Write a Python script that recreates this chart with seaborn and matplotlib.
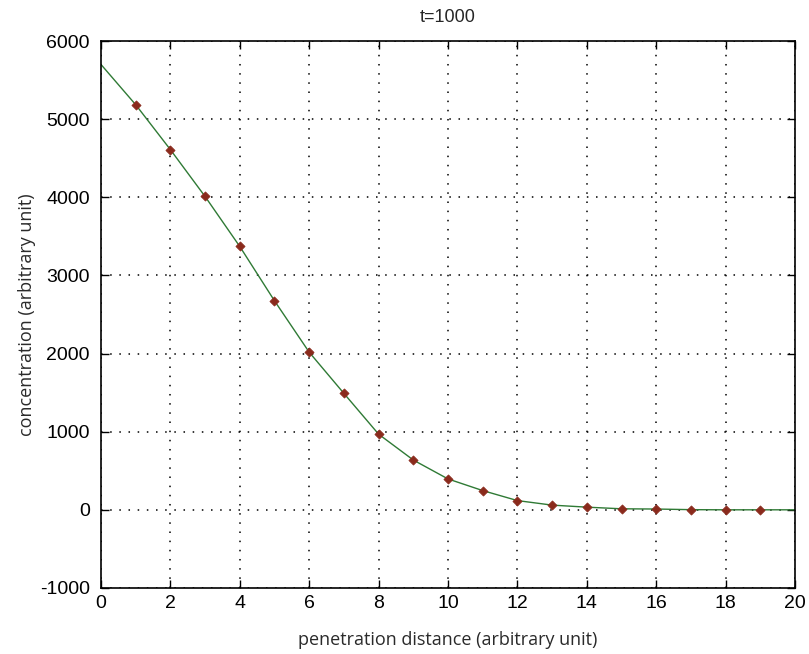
import matplotlib
matplotlib.use("Agg")
import matplotlib.pyplot as plt
import seaborn as sns
import pandas as pd

# Concentration profile at t=1000
x_line = [0, 1, 2, 3, 4, 5, 6, 7, 8, 9, 10, 11, 12, 13, 14, 15, 16, 17, 18, 19, 20]
c_line = [5700, 5185, 4610, 4010, 3370, 2675, 2017, 1490, 968, 637, 395, 246,
          118, 60, 34, 13, 10, 2, 0, 0, 0]
x_pts = [1, 2, 3, 4, 5, 6, 7, 8, 9, 10, 11, 12, 13, 14, 15, 16, 17, 18, 19]
c_pts = [5185, 4610, 4010, 3370, 2675, 2017, 1490, 968, 637, 395, 246,
         118, 60, 34, 13, 10, 2, 0, 0]
x_ticks = [0, 2, 4, 6, 8, 10, 12, 14, 16, 18, 20]
y_ticks = [-1000, 0, 1000, 2000, 3000, 4000, 5000, 6000]

sns.set_theme(style="white")
plt.rcParams['font.family'] = ['Liberation Sans Narrow', 'Liberation Sans', 'DejaVu Sans']

line_df = pd.DataFrame({"x": x_line, "c": c_line})
pts_df = pd.DataFrame({"x": x_pts, "c": c_pts})

fig = plt.figure(figsize=(8.09, 6.54), dpi=100)
ax = fig.add_axes([0.1248, 0.101, 0.858, 0.8363])

sns.lineplot(data=line_df, x="x", y="c", ax=ax, color="#2f7a35", linewidth=1.0)
sns.scatterplot(data=pts_df, x="x", y="c", ax=ax, marker="D", s=22,
                color="#8a2a1c", edgecolor="#8a2a1c", linewidth=0.5, zorder=3)

ax.set_xlim(0, 20)
ax.set_ylim(-1000, 6000)
ax.set_xticks(x_ticks)
ax.set_yticks(y_ticks)
ax.set_xticklabels([str(v) for v in x_ticks], fontsize=14)
ax.set_yticklabels([str(v) for v in y_ticks], fontsize=14)
ax.grid(True, color="black", linestyle=(0, (1, 5)), linewidth=1.1)
ax.tick_params(direction="in", length=6, width=1, top=True, right=True,
               bottom=True, left=True, colors="black", pad=5)
ax.tick_params(axis="y", pad=8)
for s in ax.spines.values():
    s.set_color("black")
    s.set_linewidth(1.2)

ax.set_xlabel("penetration distance (arbitrary unit)", fontsize=13, color="#2a2a2a",
              family=['Open Sans', 'DejaVu Sans'], labelpad=14)
ax.set_ylabel("concentration (arbitrary unit)", fontsize=13, color="#2a2a2a",
              family=['Open Sans', 'DejaVu Sans'], labelpad=3)
ax.set_title("t=1000", fontsize=13, family=['Liberation Sans', 'DejaVu Sans'], pad=14)

fig.savefig("out.png", dpi=100)
